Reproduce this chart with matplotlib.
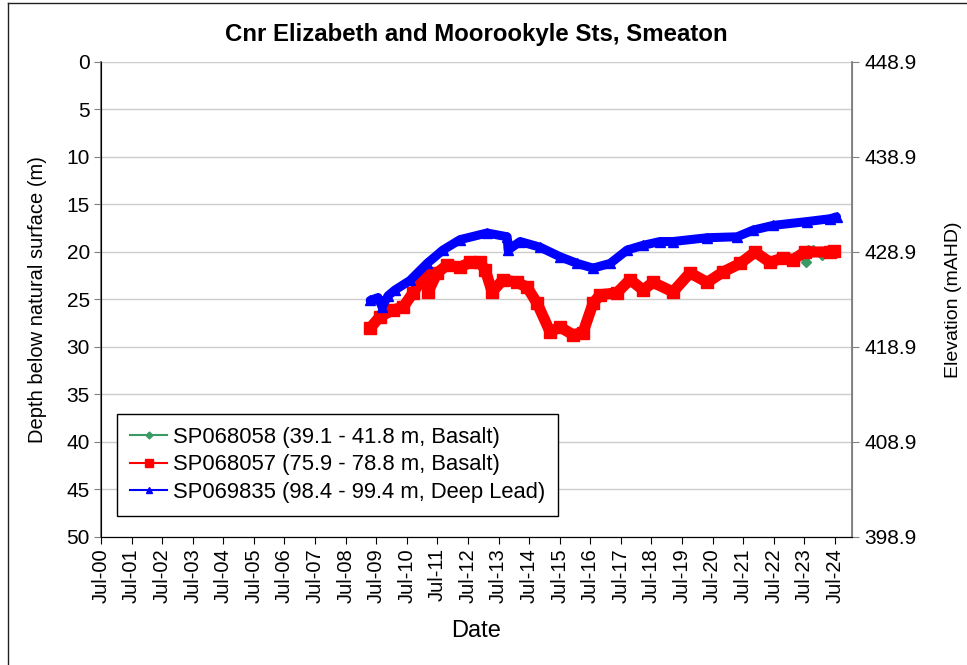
import matplotlib
matplotlib.use("Agg")
import matplotlib.pyplot as plt
import matplotlib.dates as mdates
import pandas as pd
from matplotlib.lines import Line2D

plt.rcParams["font.family"] = ["Liberation Sans", "DejaVu Sans"]

# Surface elevation (mAHD) -- depth 0 m
surface_elev = 448.9

green_dates = ["2023-07-08", "2023-07-19", "2023-08-15", "2023-10-12", "2024-01-30", "2024-06-10"]
green_depth = [20.0, 21.1, 19.8, 19.8, 20.3, 20.1]

red_dates = [
    "2009-04-20", "2009-08-15", "2010-01-19", "2010-05-19", "2010-09-13", "2011-01-12",
    "2011-03-01", "2011-03-12", "2011-06-28", "2011-10-23", "2012-03-28", "2012-07-27",
    "2012-11-21", "2013-01-23", "2013-04-16", "2013-08-25", "2014-02-06", "2014-06-07",
    "2014-10-05", "2015-03-08", "2015-07-05", "2015-12-05", "2016-04-04", "2016-08-03",
    "2016-10-27", "2017-05-15", "2017-10-19", "2018-03-22", "2018-07-20", "2019-03-15",
    "2019-10-05", "2020-04-27", "2020-11-03", "2021-05-27", "2021-11-21", "2022-05-19",
    "2022-10-19", "2023-02-17", "2023-07-08", "2024-05-05", "2024-06-20",
]
red_depth = [
    28.0, 26.8, 26.1, 25.8, 24.3, 22.7,
    22.4, 24.2, 22.2, 21.4, 21.6, 21.1,
    21.1, 21.9, 24.2, 22.9, 23.2, 23.7,
    25.4, 28.4, 27.9, 28.7, 28.5, 25.4,
    24.5, 24.3, 22.9, 24.0, 23.2, 24.2,
    22.2, 23.2, 22.1, 21.2, 20.0, 21.1,
    20.6, 20.8, 20.0, 20.0, 19.9,
]

blue_dates = [
    "2009-04-20", "2009-07-23", "2009-09-09", "2009-11-20", "2010-02-10", "2010-08-08",
    "2011-03-01", "2011-09-05", "2012-03-28", "2013-02-14", "2013-10-12", "2013-10-23",
    "2014-03-15", "2014-11-10", "2015-07-05", "2016-01-26", "2016-08-03", "2017-02-24",
    "2017-09-13", "2018-03-22", "2018-10-12", "2019-03-15", "2020-04-27", "2021-04-20",
    "2021-10-27", "2022-06-25", "2023-08-03", "2024-05-05", "2024-07-20",
]
blue_depth = [
    25.1, 24.8, 25.8, 24.6, 24.0, 23.0,
    21.2, 19.8, 18.7, 18.0, 18.4, 19.8,
    18.9, 19.5, 20.5, 21.2, 21.7, 21.2,
    19.8, 19.3, 18.9, 18.9, 18.5, 18.4,
    17.7, 17.2, 16.8, 16.5, 16.3,
]

labels = [
    "SP068058 (39.1 - 41.8 m, Basalt)",
    "SP068057 (75.9 - 78.8 m, Basalt)",
    "SP069835 (98.4 - 99.4 m, Deep Lead)",
]

fig = plt.figure(figsize=(9.67, 6.65), dpi=100)
ax = fig.add_axes([0.1045, 0.1925, 0.7765, 0.7143])

ax.plot(pd.to_datetime(green_dates), green_depth, color="#3a9a64", marker="D", ms=5,
        lw=5, solid_joinstyle="round", solid_capstyle="round")
ax.plot(pd.to_datetime(red_dates), red_depth, color="#ff0000", marker="s", ms=8,
        lw=8, solid_joinstyle="round", solid_capstyle="round")
ax.plot(pd.to_datetime(blue_dates), blue_depth, color="#0000ff", marker="^", ms=7,
        lw=6.5, solid_joinstyle="round", solid_capstyle="round")

ax.set_ylim(50, 0)
ax.set_yticks(range(0, 51, 5))
ax.set_xlim(pd.Timestamp("2000-07-01"), pd.Timestamp("2025-01-20"))
ax.set_xticks([pd.Timestamp(f"{y}-07-01") for y in range(2000, 2025)])
ax.xaxis.set_major_formatter(mdates.DateFormatter("%b-%y"))
ax.tick_params(axis="x", rotation=90, labelsize=14.5, length=5, direction="out", pad=3)
ax.tick_params(axis="y", labelsize=15, length=5, direction="out", color="#808080", pad=3)
ax.grid(axis="y", color="#cccccc", lw=1)
ax.set_axisbelow(True)
ax.spines["top"].set_visible(False)
ax.spines["right"].set_color("#808080")
ax.spines["left"].set_color("#707070")
ax.spines["left"].set_linewidth(1.3)
ax.spines["bottom"].set_color("#202020")

ax.set_xlabel("Date", fontsize=17, labelpad=12)
ax.set_ylabel("Depth below natural surface (m)", fontsize=14.5, labelpad=14)
ax.set_title("Cnr Elizabeth and Moorookyle Sts, Smeaton", fontsize=17.3, fontweight="bold", pad=15)

ax2 = ax.twinx()
ax2.set_ylim(surface_elev - 50, surface_elev)
ax2.set_yticks([surface_elev - d for d in range(0, 51, 10)])
ax2.set_yticklabels([f"{surface_elev - d:.1f}" for d in range(0, 51, 10)])
ax2.tick_params(axis="y", labelsize=15, length=5, color="#808080", pad=4)
ax2.spines["right"].set_color("#808080")
ax2.spines["right"].set_linewidth(1.3)
ax2.spines["top"].set_visible(False)
ax2.set_ylabel("Elevation (mAHD)", fontsize=14, labelpad=20)

handles = [
    Line2D([], [], color="#3a9a64", marker="D", ms=3.5, lw=1.5),
    Line2D([], [], color="#ff0000", marker="s", ms=6, lw=1.5),
    Line2D([], [], color="#0000ff", marker="^", ms=5, lw=1.5),
]
leg = ax.legend(handles, labels, loc="lower left", bbox_to_anchor=(0.021, 0.044), fontsize=15.8,
                frameon=True, fancybox=False, edgecolor="black", framealpha=1,
                handlelength=1.7, handletextpad=0.25, borderpad=0.6, labelspacing=0.3,
                borderaxespad=0)
leg.get_frame().set_linewidth(1)

# outer chart frame
fig.add_artist(Line2D([0.0083, 0.0083], [0.0, 0.9955], transform=fig.transFigure, color="#202020", lw=1))
fig.add_artist(Line2D([0.0083, 1.0], [0.9955, 0.9955], transform=fig.transFigure, color="#202020", lw=1))

fig.savefig("out.png", dpi=100)
